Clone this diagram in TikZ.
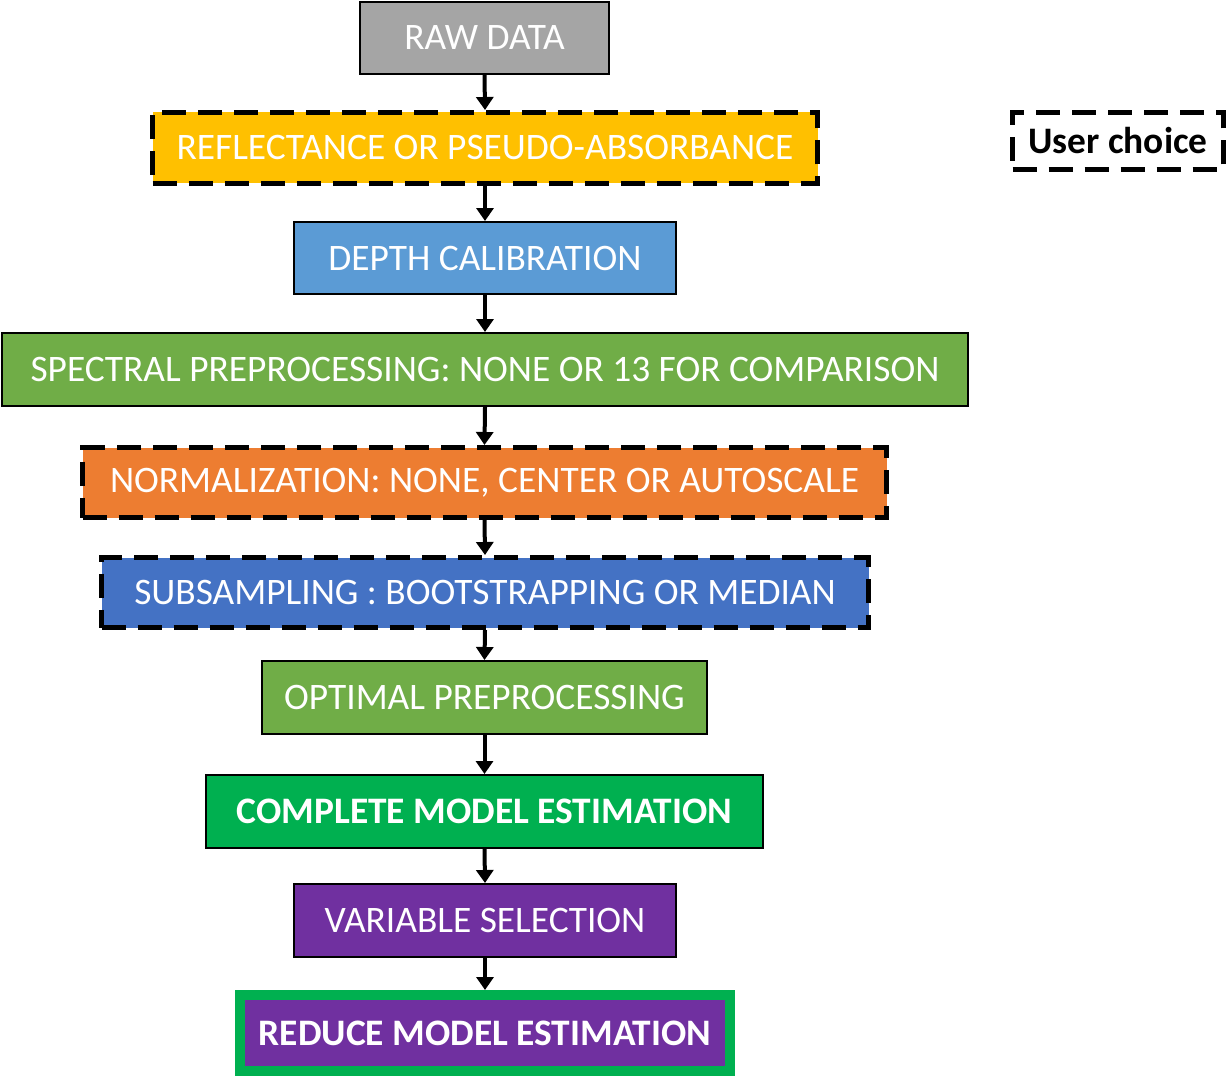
\documentclass[tikz,border=0pt]{standalone}
\usepackage{fontspec}
\setmainfont{Carlito}
\usetikzlibrary{arrows.meta}
\definecolor{cgray}{HTML}{A5A5A5}
\definecolor{cyellow}{HTML}{FFC000}
\definecolor{cblue}{HTML}{5B9BD5}
\definecolor{cgreen}{HTML}{70AD47}
\definecolor{corange}{HTML}{ED7D31}
\definecolor{cdblue}{HTML}{4472C4}
\definecolor{cbgreen}{HTML}{00B050}
\definecolor{cpurple}{HTML}{7030A0}
\tikzset{
  txt/.style={font=\fontsize{37.4}{44}\selectfont},
  box/.style={draw=black, line width=2pt, text=white, inner sep=0pt, txt},
  choice/.style={draw=black, line width=5pt, dash pattern=on 24pt off 12pt, text=white, inner sep=0pt, txt},
  bold/.style={font=\fontsize{37.4}{44}\selectfont\bfseries},
  flow/.style={line width=4pt, -{Triangle[width=17pt,length=13pt]}}
}
\begin{document}
\begin{tikzpicture}[x=1pt,y=-1pt]
\useasboundingbox (0,0) rectangle (1228,1078);
\node[box, fill=cgray, minimum width=249pt, minimum height=72pt] (raw) at (484.5,38) {RAW DATA};
\node[choice, fill=cyellow, minimum width=665pt, minimum height=71pt] (refl) at (485,148) {REFLECTANCE OR PSEUDO-ABSORBANCE};
\node[choice, fill=white, text=black, minimum width=211pt, minimum height=57pt, bold] (user) at (1118,141) {User choice};
\node[box, fill=cblue, minimum width=382pt, minimum height=72pt] (depth) at (485,258) {DEPTH CALIBRATION};
\node[box, fill=cgreen, minimum width=966pt, minimum height=73pt] (spec) at (485,369.5) {SPECTRAL PREPROCESSING: NONE OR 13 FOR COMPARISON};
\node[choice, fill=corange, minimum width=804pt, minimum height=70pt] (norm) at (484.5,482.5) {NORMALIZATION: NONE, CENTER OR AUTOSCALE};
\node[choice, fill=cdblue, minimum width=767pt, minimum height=70pt] (sub) at (485,592.5) {SUBSAMPLING : BOOTSTRAPPING OR MEDIAN};
\node[box, fill=cgreen, minimum width=445pt, minimum height=73pt] (opt) at (484.5,697.5) {OPTIMAL PREPROCESSING};
\node[box, fill=cbgreen, minimum width=557pt, minimum height=73pt, bold] (comp) at (484.5,811.5) {COMPLETE MODEL ESTIMATION};
\node[box, fill=cpurple, minimum width=382pt, minimum height=73pt] (var) at (485,920.5) {VARIABLE SELECTION};
\node[box, draw=cbgreen, line width=10pt, fill=cpurple, minimum width=490pt, minimum height=76pt, bold] (red) at (485,1033) {REDUCE MODEL ESTIMATION};
\draw[flow] (raw.south) -- (refl.north);
\draw[flow] (refl.south) -- (depth.north);
\draw[flow] (depth.south) -- (spec.north);
\draw[flow] (spec.south) -- (norm.north);
\draw[flow] (norm.south) -- (sub.north);
\draw[flow] (sub.south) -- (opt.north);
\draw[flow] (opt.south) -- (comp.north);
\draw[flow] (comp.south) -- (var.north);
\draw[flow] (var.south) -- (red.north);
\end{tikzpicture}
\end{document}
